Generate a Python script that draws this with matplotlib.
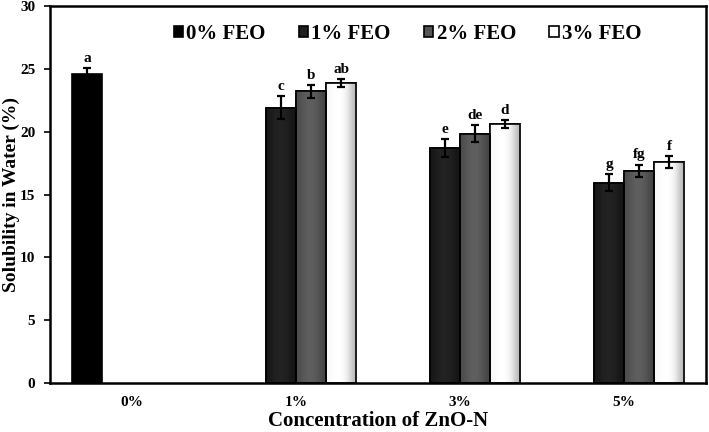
import numpy as np
import matplotlib.pyplot as plt

plt.rcParams['font.family'] = ['Liberation Serif', 'DejaVu Serif']
plt.rcParams['font.weight'] = 'bold'

categories = ['0%', '1%', '3%', '5%']
series = ['0% FEO', '1% FEO', '2% FEO', '3% FEO']

# solubility (%) per series, one value per ZnO-N concentration
feo0 = [24.6, np.nan, np.nan, np.nan]
feo1 = [np.nan, 21.9, 18.7, 15.95]
feo2 = [np.nan, 23.2, 19.85, 16.9]
feo3 = [np.nan, 23.85, 20.6, 17.6]

err0 = [0.45, 0, 0, 0]
err1 = [0, 0.9, 0.68, 0.65]
err2 = [0, 0.52, 0.68, 0.48]
err3 = [0, 0.33, 0.3, 0.47]

let0 = ['a', '', '', '']
let1 = ['', 'c', 'e', 'g']
let2 = ['', 'b', 'de', 'fg']
let3 = ['', 'ab', 'd', 'f']

values = [feo0, feo1, feo2, feo3]
errors = [err0, err1, err2, err3]
letters = [let0, let1, let2, let3]
colors = ['#000000', '#1e1e1e', '#555555', '#ffffff']
# grey levels across each bar (left -> right) for the bevel look
shades = [None,
          [0.09, 0.13, 0.14, 0.12, 0.08],
          [0.30, 0.36, 0.38, 0.34, 0.26],
          [0.97, 1.0, 1.0, 0.93, 0.72]]

fig = plt.figure(figsize=(7.09, 4.32), dpi=100)
ax = fig.add_axes([50/709, 1 - 383/432, 656/709, 377/432])

x = np.arange(len(categories))
w = 0.183
for i in range(4):
    pos = x + (i - 1.5) * w
    v = np.array(values[i])
    bars = ax.bar(pos, v, w, color=colors[i], edgecolor='black', linewidth=1.2,
                  label=series[i], zorder=2)
    if shades[i] is not None:
        grad = np.array(shades[i])[None, :]
        for b, val in zip(bars, v):
            if np.isnan(val):
                continue
            bx, by = b.get_x(), b.get_y()
            im = ax.imshow(grad, cmap='gray', vmin=0, vmax=1, aspect='auto',
                           interpolation='bicubic',
                           extent=[bx, bx + b.get_width(), by, by + b.get_height()],
                           zorder=2.1)
            im.set_clip_path(b)
            ax.bar(b.get_x() + w / 2, val, w, fill=False, edgecolor='black',
                   linewidth=1.2, zorder=2.2)
    ok = ~np.isnan(v)
    ax.errorbar(pos[ok], v[ok], yerr=np.array(errors[i])[ok], fmt='none',
                ecolor='black', elinewidth=1.6, capsize=3, capthick=1.6, zorder=3)
    for p, val, e, t in zip(pos, v, errors[i], letters[i]):
        if t:
            ax.text(p, val + e + 0.25, t, ha='center', va='bottom',
                    fontsize=11, fontweight='bold')

ax.set_xlim(-0.5, 3.5)
ax.set_ylim(0, 30)
ax.set_yticks(range(0, 31, 5))
ax.set_xticks(x)
ax.set_xticklabels(categories)
ax.tick_params(axis='x', length=0, pad=9, labelsize=11)
ax.tick_params(axis='y', length=4.5, width=1.2, labelsize=11, direction='out', pad=6)
for s in ax.spines.values():
    s.set_linewidth(1.8)

ax.set_xlabel('Concentration of ZnO-N', fontsize=15, fontweight='bold', labelpad=2)
ax.set_ylabel('Solubility in Water (%)', fontsize=14, fontweight='bold', va='center')
ax.yaxis.set_label_coords(-39 / 656, 0.5)

leg = ax.legend(loc='center', bbox_to_anchor=(0.545, 0.926), ncol=4,
                frameon=False, handlelength=0.45, handleheight=0.45,
                handletextpad=0.15, columnspacing=1.6,
                prop={'family': 'Liberation Serif', 'weight': 'bold', 'size': 15})

fig.savefig('out.png', dpi=100)
